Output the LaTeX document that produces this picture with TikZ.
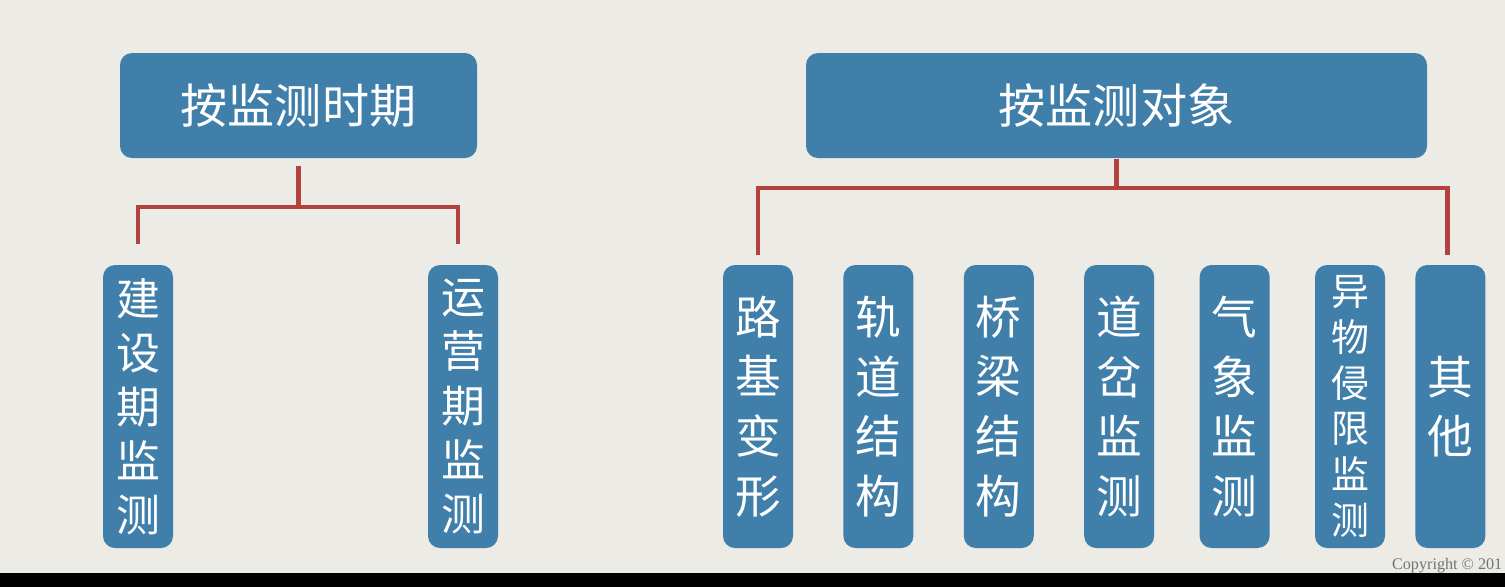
\documentclass[tikz,border=0pt]{standalone}
\usepackage{fontspec}
\setmainfont{Liberation Serif}
\newfontfamily\cjk{Noto Sans CJK SC}
\usetikzlibrary{positioning}
\definecolor{slide}{HTML}{EDEBE6}
\definecolor{tile}{HTML}{3F7FAA}
\definecolor{redrule}{HTML}{B3423F}

\begin{document}
\begin{tikzpicture}[
  x=0.1mm, y=-0.1mm,
  node distance=4.9mm,
  head/.style={fill=tile, rounded corners=1.2mm, inner sep=0pt, minimum height=10.5mm, text=white, font=\cjk\fontsize{13.4}{16}\selectfont},
  leaf/.style={fill=tile, rounded corners=1.2mm, inner sep=0pt, minimum width=7mm, minimum height=28.3mm, align=center, text=white, font=\cjk\fontsize{13}{17}\selectfont},
  leafa/.style={leaf, font=\cjk\fontsize{12.5}{15.4}\selectfont},
  leafs/.style={leaf, font=\cjk\fontsize{10.8}{13}\selectfont},
  link/.style={draw=redrule, line width=0.45mm}
]
% slide background
\fill[slide] (0,0) rectangle (1505,587);
\useasboundingbox (0,0) rectangle (1505,587);
\fill[black] (0,573) rectangle (1505,587);

% by period
\node[head, minimum width=35.7mm] (period) at (298.5,105.5) {按监测时期};
\node[leafa] (build) at (138,406.5) {建\\设\\期\\监\\测};
\node[leafa] (oper) at (463,406.5) {运\\营\\期\\监\\测};

% by object
\node[head, minimum width=62.1mm] (object) at (1116.5,105.5) {按监测对象};
\node[leaf] (subgr) at (758,406.5) {路\\基\\变\\形};
\node[leaf, right=of subgr] (track) {轨\\道\\结\\构};
\node[leaf, right=of track] (bridge) {桥\\梁\\结\\构};
\node[leaf, right=of bridge] (turnout) {道\\岔\\监\\测};
\node[leaf, right=4.4mm of turnout] (weather) {气\\象\\监\\测};
\node[leafs, right=4.4mm of weather] (intrude) {异\\物\\侵\\限\\监\\测};
\node[leaf, right=2.9mm of intrude] (other) {其\\他};

\coordinate (pbar) at (298,207);
\coordinate (obar) at (1116,188);

\draw[link, shorten <=0.7mm] (period.south) -- (period.south |- pbar);
\draw[link] ([yshift=2mm]build.north) -- (build.north |- pbar) -- ([xshift=-0.5mm]oper.north |- pbar) -- ([xshift=-0.5mm,yshift=2mm]oper.north);

\draw[link] (object.south) -- (object.south |- obar);
\draw[link] ([yshift=0.9mm]subgr.north) -- (subgr.north |- obar) -- ([xshift=-0.3mm]other.north |- obar) -- ([xshift=-0.3mm,yshift=0.9mm]other.north);

\node[anchor=east, inner sep=0pt, text=black!55, font=\fontsize{4.6}{5}\selectfont] (copy) at (1503,566) {Copyright © 201};
\end{tikzpicture}
\end{document}
